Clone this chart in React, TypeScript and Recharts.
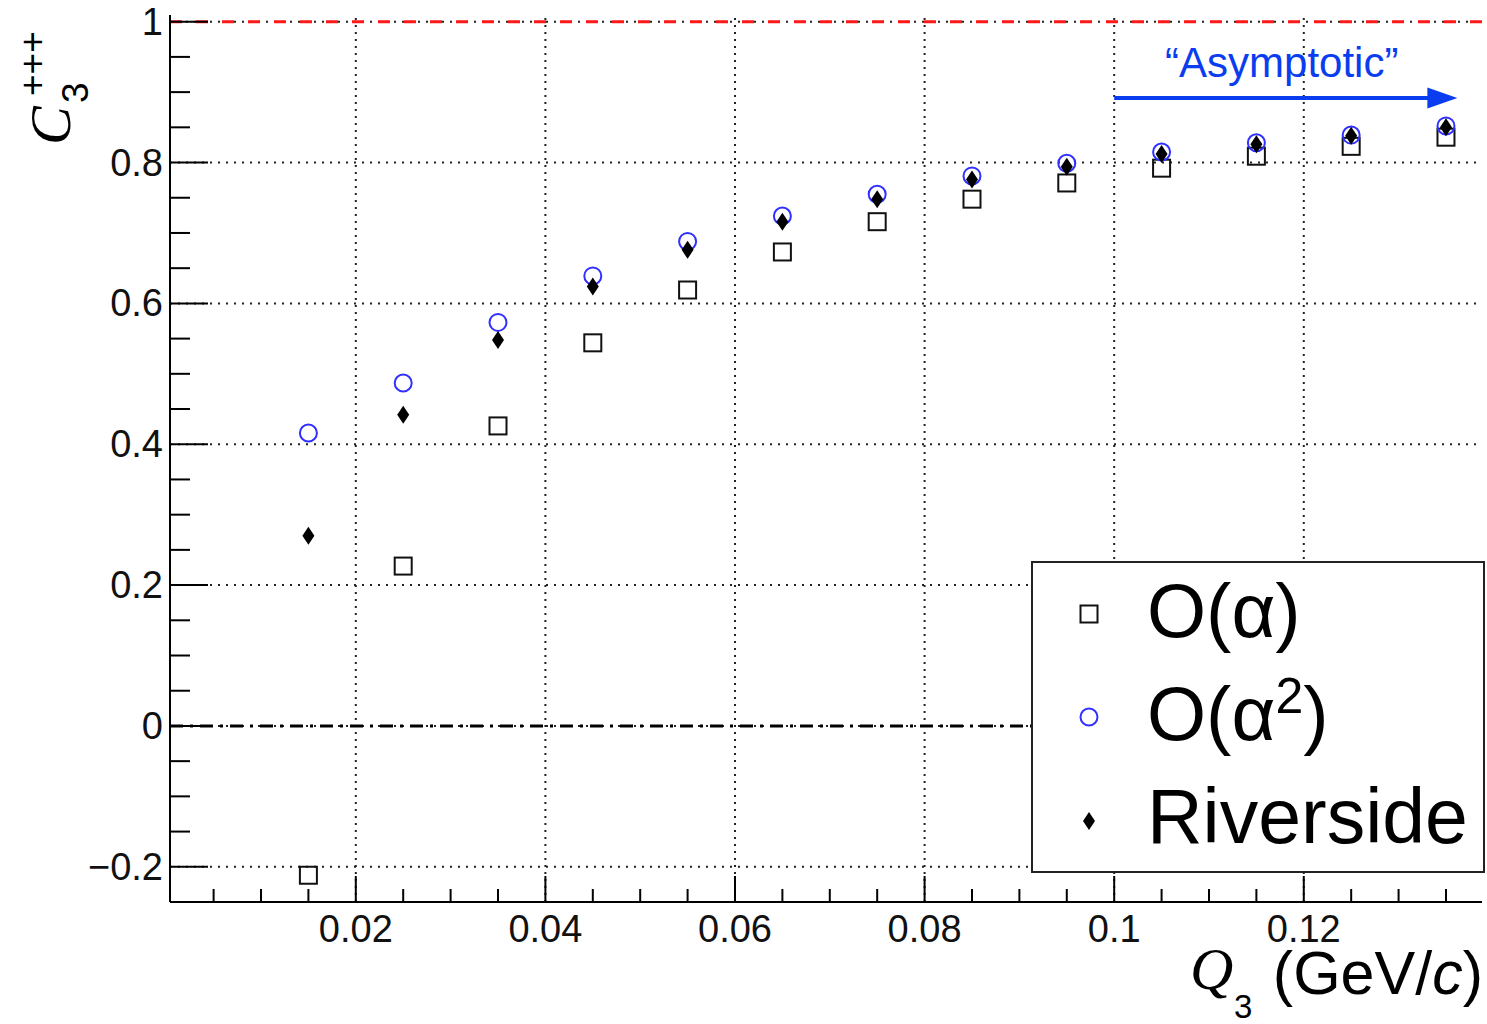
import React from 'react';
import { ScatterChart, Scatter, XAxis, YAxis, ReferenceLine } from 'recharts';

// ---- data ----
const qValues = [0.015, 0.025, 0.035, 0.045, 0.055, 0.065, 0.075, 0.085, 0.095, 0.105, 0.115, 0.125, 0.135];
const orderAlpha = [-0.212, 0.227, 0.426, 0.544, 0.619, 0.673, 0.716, 0.748, 0.771, 0.792, 0.809, 0.823, 0.836];
const orderAlpha2 = [0.416, 0.487, 0.573, 0.639, 0.688, 0.724, 0.755, 0.781, 0.799, 0.815, 0.828, 0.839, 0.852];
const riverside = [0.27, 0.442, 0.548, 0.624, 0.676, 0.716, 0.748, 0.776, 0.794, 0.812, 0.826, 0.838, 0.85];

const xTicks = [0.005, 0.01, 0.015, 0.02, 0.025, 0.03, 0.035, 0.04, 0.045, 0.05, 0.055, 0.06, 0.065, 0.07, 0.075, 0.08, 0.085, 0.09, 0.095, 0.1, 0.105, 0.11, 0.115, 0.12, 0.125, 0.13, 0.135];
const xMajor = [0.02, 0.04, 0.06, 0.08, 0.1, 0.12];
const yTicks = [-0.2, -0.15, -0.1, -0.05, 0, 0.05, 0.1, 0.15, 0.2, 0.25, 0.3, 0.35, 0.4, 0.45, 0.5, 0.55, 0.6, 0.65, 0.7, 0.75, 0.8, 0.85, 0.9, 0.95, 1];
const yMajor = [-0.2, 0, 0.2, 0.4, 0.6, 0.8, 1];
const xDomain = [0.0004, 0.1388];
const yDomain = [-0.25, 1.0095];
const unitLevel = 1;
const zeroLevel = 0;
const arrowFrom = { x: 0.1, y: 0.8917 };
const arrowTo = { x: 0.1362, y: 0.8917 };
const arrowText = '\u201CAsymptotic\u201D';
const legendAlpha = 'O(\u03B1)';
const legendAlpha2Base = 'O(\u03B1';
const legendRiverside = 'Riverside';

const SANS = '"Liberation Sans", Arial, Helvetica, sans-serif';
const SERIF = '"Liberation Serif", "Times New Roman", serif';
const BLUE_TEXT = '#0a3cf0';
const BLUE_MARK = '#3030ff';

const toPoints = (ys: number[]) => qValues.map((x, i) => ({ x, y: ys[i] }));
const isIn = (arr: number[], v: number) => arr.some((m) => Math.abs(m - v) < 1e-9);
const fmt = (v: number) => {
  if (Math.abs(v) < 1e-9) return '0';
  const s = String(parseFloat(Math.abs(v).toFixed(3)));
  return (v < 0 ? '\u2212' : '') + s;
};

const XTick = (props: any) => {
  const { x, y, payload } = props;
  const major = isIn(xMajor, payload.value);
  return (
    <g>
      <line x1={x} x2={x} y1={y} y2={y - (major ? 26 : 13)} stroke="#000" strokeWidth={2} />
      {major && (
        <text x={x} y={y + 40} textAnchor="middle" fontSize={38} fontFamily={SANS} fill="#111">
          {fmt(payload.value)}
        </text>
      )}
    </g>
  );
};

const YTick = (props: any) => {
  const { x, y, payload } = props;
  const major = isIn(yMajor, payload.value);
  return (
    <g>
      <line x1={x} x2={x + (major ? 38 : 20)} y1={y} y2={y} stroke="#000" strokeWidth={2} />
      {major && (
        <text x={x - 7} y={y + 13} textAnchor="end" fontSize={38} fontFamily={SANS} fill="#111">
          {fmt(payload.value)}
        </text>
      )}
    </g>
  );
};

const SquareShape = (p: any) => (
  <rect x={p.cx - 8.5} y={p.cy - 8.5} width={17} height={17} fill="none" stroke="#111" strokeWidth={2} />
);
const CircleShape = (p: any) => (
  <circle cx={p.cx} cy={p.cy} r={8.5} fill="none" stroke={BLUE_MARK} strokeWidth={2} />
);
const DiamondShape = (p: any) => (
  <polygon
    points={`${p.cx},${p.cy - 9} ${p.cx + 6},${p.cy} ${p.cx},${p.cy + 9} ${p.cx - 6},${p.cy}`}
    fill="#000"
  />
);

const ArrowShape = (p: any) => {
  const { x1, y1, x2, y2 } = p;
  return (
    <g>
      <line x1={x1} y1={y1} x2={x2 - 26} y2={y2} stroke={BLUE_TEXT} strokeWidth={4} />
      <polygon points={`${x2},${y2} ${x2 - 30},${y2 - 10.5} ${x2 - 30},${y2 + 10.5}`} fill={BLUE_TEXT} />
      <text x={(x1 + x2) / 2 - 4} y={y1 - 21} textAnchor="middle" fontSize={42} fontFamily={SANS} fill={BLUE_TEXT}>
        {arrowText}
      </text>
    </g>
  );
};

const series = [
  { name: legendAlpha, data: toPoints(orderAlpha), shape: SquareShape },
  { name: legendAlpha2Base + '\u00B2)', data: toPoints(orderAlpha2), shape: CircleShape },
  { name: legendRiverside, data: toPoints(riverside), shape: DiamondShape },
];

const Overlay = () => (
  <svg width={1487} height={1024} style={{ position: 'absolute', left: 0, top: 0, pointerEvents: 'none' }}>
    {/* legend */}
    <rect x={1032} y={562} width={452} height={310} fill="#fff" stroke="#222" strokeWidth={2} />
    <SquareShape cx={1089} cy={614} />
    <text x={1147} y={637} fontSize={76} fontFamily={SANS} fill="#000">{legendAlpha}</text>
    <CircleShape cx={1089} cy={717} />
    <text x={1147} y={740} fontSize={76} fontFamily={SANS} fill="#000">
      {legendAlpha2Base}
      <tspan fontSize={50} dy={-27}>2</tspan>
      <tspan dy={27}>)</tspan>
    </text>
    <DiamondShape cx={1089} cy={821} />
    <text x={1147} y={843} fontSize={77} fontFamily={SANS} fill="#000">{legendRiverside}</text>

    {/* y axis title */}
    <text transform="translate(70,145) rotate(-90)" fill="#000">
      <tspan x={0} y={0} fontStyle="italic" fontFamily={SERIF} fontSize={58}>C</tspan>
      <tspan x={42} y={18} fontFamily={SANS} fontSize={37}>3</tspan>
      <tspan x={49} y={-25} fontFamily={SANS} fontSize={37}>+++</tspan>
    </text>

    {/* x axis title */}
    <text x={1190} y={989} fontStyle="italic" fontFamily={SERIF} fontSize={60} fill="#000">Q</text>
    <text x={1234} y={1018} fontFamily={SANS} fontSize={33} fill="#000">3</text>
    <text x={1483} y={994} textAnchor="end" fontFamily={SANS} fontSize={61} fill="#000">
      (GeV/<tspan fontStyle="italic">c</tspan>)
    </text>
  </svg>
);

export default function App() {
  return (
    <div style={{ position: 'absolute', left: 0, top: 0, width: 1487, height: 1024, background: '#fff' }}>
      <ScatterChart width={1487} height={1024} margin={{ top: 15, right: 5, left: 0, bottom: 0 }}>
        <XAxis
          dataKey="x"
          type="number"
          domain={xDomain}
          allowDataOverflow
          ticks={xTicks}
          interval={0}
          height={122}
          tickSize={0}
          tickMargin={0}
          tickLine={false}
          tick={XTick}
          axisLine={{ stroke: '#000', strokeWidth: 2 }}
        />
        <XAxis
          xAxisId="top"
          orientation="top"
          type="number"
          domain={xDomain}
          allowDataOverflow
          height={0}
          tick={false}
          tickLine={false}
          axisLine={{ stroke: '#222', strokeWidth: 2 }}
        />
        <YAxis
          dataKey="y"
          type="number"
          domain={yDomain}
          allowDataOverflow
          ticks={yTicks}
          interval={0}
          width={170}
          tickSize={0}
          tickMargin={0}
          tickLine={false}
          tick={YTick}
          axisLine={{ stroke: '#000', strokeWidth: 2 }}
        />
        <YAxis
          yAxisId="right"
          orientation="right"
          type="number"
          domain={yDomain}
          allowDataOverflow
          width={0}
          tick={false}
          tickLine={false}
          axisLine={{ stroke: '#222', strokeWidth: 2 }}
        />
        {xMajor.map((v) => (
          <ReferenceLine key={`gx${v}`} x={v} stroke="#222" strokeWidth={2} strokeDasharray="2 5" />
        ))}
        {yMajor.map((v) => (
          <ReferenceLine key={`gy${v}`} y={v} stroke="#222" strokeWidth={2} strokeDasharray="2 6" />
        ))}
        <ReferenceLine y={unitLevel} stroke="#ff1a1a" strokeWidth={3} strokeDasharray="12 14" />
        <ReferenceLine y={zeroLevel} stroke="#000" strokeWidth={3} strokeDasharray="13 7 3 7" />
        <ReferenceLine segment={[arrowFrom, arrowTo]} shape={ArrowShape} />
        {series.map((s) => (
          <Scatter key={s.name} name={s.name} data={s.data} shape={s.shape} isAnimationActive={false} />
        ))}
      </ScatterChart>
      <Overlay />
    </div>
  );
}
